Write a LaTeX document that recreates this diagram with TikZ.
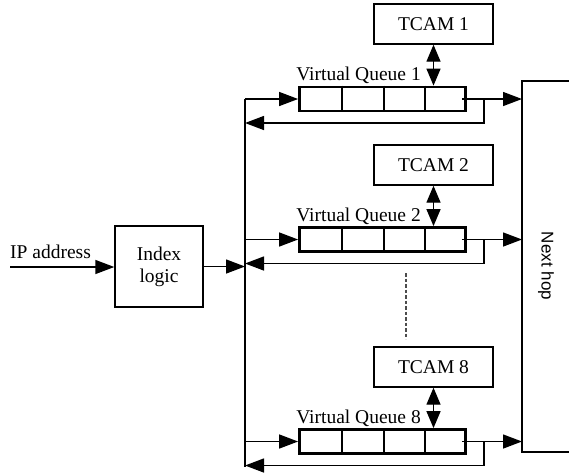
\documentclass[tikz,border=0pt]{standalone}
\usepackage{fontspec}
\setmainfont{Liberation Serif}
\newfontfamily\labelsans{Liberation Sans}
\usetikzlibrary{arrows.meta,calc}

\tikzset{
  wire/.style={line width=1.4pt},
  flow/.style={wire,-{Triangle[length=19pt,width=14pt]}},
  both/.style={wire,{Triangle[length=17pt,width=14pt]}-{Triangle[length=17pt,width=14pt]}},
  queuebox/.style={draw,line width=2.8pt,minimum width=166pt,minimum height=24pt,inner sep=0pt},
  tcambox/.style={draw,line width=1.4pt,minimum width=119pt,minimum height=40pt,inner sep=0pt},
  txt/.style={font=\fontsize{19.5}{22}\selectfont,inner sep=0pt},
}

\newcommand{\drawqueue}[4]{%
  % #1 name, #2 centre y, #3 tcam centre y, #4 index
  \node[queuebox] (q#1) at (382.5,#2) {};
  \foreach \f in {0.259,0.506,0.753}
    \draw[line width=2pt] ($(q#1.north west)!\f!(q#1.north east)$) -- ($(q#1.south west)!\f!(q#1.south east)$);
  \node[txt,anchor=base west] at ($(q#1.north west)+(-2,-5)$) {Virtual Queue #4};
  \node[tcambox,txt] (t#1) at (433.5,#3) {TCAM #4};
  \draw[both] (t#1.south) -- (t#1.south |- q#1.north);
  \draw[flow] (q#1.west -| bus) -- (q#1.west);
  \draw[flow] ($(q#1.east)+(-5,0)$) -- (q#1.east -| nh);
  \coordinate (r#1) at ($(q#1.east)+(17,0)$);
  \draw[flow] (r#1) -- ++(0,24) -- ($(r#1 -| bus)+(0,24)$);
}

\begin{document}
\begin{tikzpicture}[x=1pt,y=-1pt]
  \useasboundingbox (0,0) rectangle (569,475);

  % shared bus on the left and the next-hop block on the right
  \coordinate (bus) at (245,99);
  \coordinate (busend) at (245,467);
  \coordinate (nh) at (522,81);
  \draw[wire] (bus) -- (busend);
  \draw[wire] (569,81) -- (nh) -- (522,452) -- (569,452);
  \node[txt,font=\labelsans\fontsize{17}{20}\selectfont,rotate=-90] (next) at (546,266) {Next hop};

  % index logic
  \node[draw,line width=1.4pt,minimum width=88pt,minimum height=81pt,inner sep=0pt,
        txt,align=center] (index) at (159,266.5) {Index\\logic};
  \coordinate (ip) at (10,267);
  \node[txt,anchor=base west] (iplabel) at (10,258) {IP address};
  \draw[flow] (ip) -- (ip -| index.west);
  \draw[flow] (index.east) -- (index.east -| bus);

  \drawqueue{1}{99}{24}{1}
  \drawqueue{2}{239.5}{165}{2}
  \drawqueue{8}{441.5}{367}{8}

  % elided queues 3 to 7
  \coordinate (gapa) at (406,273);
  \coordinate (gapb) at (406,339);
  \draw[line width=1.6pt,gray!60!black,dash pattern=on 3.5pt off 2pt] (gapa) -- (gapb);
\end{tikzpicture}
\end{document}
